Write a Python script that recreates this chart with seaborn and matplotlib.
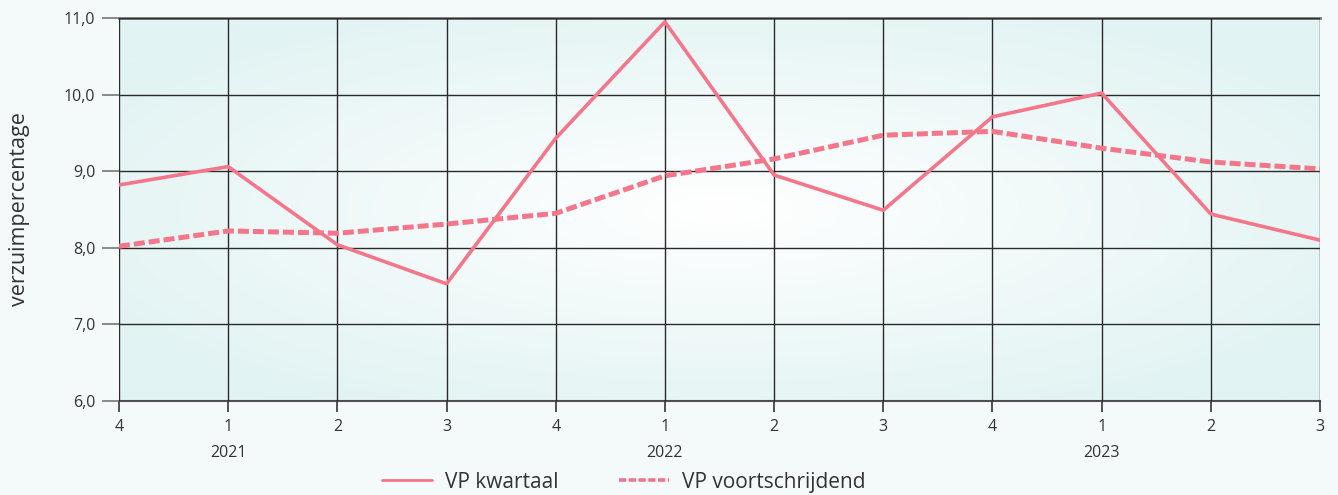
import numpy as np
import matplotlib
matplotlib.use("Agg")
import matplotlib.pyplot as plt
import seaborn as sns
import pandas as pd

quarters = ["4", "1", "2", "3", "4", "1", "2", "3", "4", "1", "2", "3"]
years = ["2021", "2022", "2023"]
year_pos = [1, 5, 9]
vp_kwartaal = [8.82, 9.06, 8.04, 7.53, 9.43, 10.95, 8.95, 8.49, 9.71, 10.02, 8.44, 8.10]
vp_voortschrijdend = [8.02, 8.22, 8.19, 8.31, 8.45, 8.94, 9.16, 9.47, 9.52, 9.30, 9.12, 9.03]
yticks = [6.0, 7.0, 8.0, 9.0, 10.0, 11.0]

sns.set_theme(style="white")
plt.rcParams['font.family'] = ['Open Sans', 'DejaVu Sans']

line_color = "#f4768a"
bg = "#f4f9fa"

fig = plt.figure(figsize=(13.38, 4.95), dpi=100, facecolor=bg)
ax = fig.add_axes([119/1338, 94/495, (1320-119)/1338, (401-18)/495])
ax.set_facecolor("#e3f3f3")

# radial gradient background
ny, nx = 200, 600
yy, xx = np.mgrid[-1:1:ny*1j, -1:1:nx*1j]
r = np.clip(np.sqrt(xx**2 + yy**2) / 1.2, 0, 1)
c_in = np.array([1.0, 1.0, 1.0])
c_out = np.array([0xe2, 0xf3, 0xf3]) / 255
img = c_in[None, None, :] * (1 - r[..., None]) + c_out[None, None, :] * r[..., None]
ax.imshow(img, extent=[0, 1, 0, 1], transform=ax.transAxes, aspect="auto", zorder=0, interpolation="bilinear")

idx = np.arange(len(quarters))
df = pd.DataFrame({"idx": idx, "k": vp_kwartaal, "v": vp_voortschrijdend})
sns.lineplot(data=df, x="idx", y="k", ax=ax, color=line_color, lw=2.6, label="VP kwartaal", zorder=4)
sns.lineplot(data=df, x="idx", y="v", ax=ax, color=line_color, lw=3.6, linestyle=(0, (2.2, 0.8)), label="VP voortschrijdend", zorder=4)

ax.set_xlim(0, len(quarters) - 1)
ax.set_ylim(6, 11)
ax.set_xticks(idx)
ax.set_xticklabels(quarters)
ax.set_yticks(yticks)
ax.set_yticklabels([f"{t:.1f}".replace(".", ",") for t in yticks])
ax.grid(True, color="#2a2a2a", lw=1.0, zorder=1)
ax.set_axisbelow(False)
for ln in ax.get_xgridlines() + ax.get_ygridlines():
    ln.set_zorder(2)
ax.tick_params(axis="both", which="both", length=12, width=1.2, color="#777777",
               labelsize=11.5, labelcolor="#333333", pad=5, left=True, bottom=True)
ax.tick_params(axis="x", length=8, color="#333333", pad=5)
for s in ["left", "right", "bottom"]:
    ax.spines[s].set_visible(False)
ax.spines["top"].set_color("#7a7a7a")
ax.spines["top"].set_linewidth(2)
ax.spines["bottom"].set_visible(True)
ax.spines["bottom"].set_color("#555555")
ax.spines["bottom"].set_linewidth(1.5)

ax.set_xlabel("")
ax.set_ylabel("verzuimpercentage", fontsize=15.5, color="#333333")
ax.yaxis.set_label_coords(-0.074, 0.5)

for y, p in zip(years, year_pos):
    ax.text(p, -0.135, y, transform=ax.get_xaxis_transform(), ha="center", va="center",
            fontsize=11.5, color="#333333")

leg = ax.legend(loc="center", bbox_to_anchor=(0.42, -0.212), ncol=2, frameon=False,
                fontsize=15, handlelength=2.4, columnspacing=2.9, handletextpad=0.63,
                labelcolor="#333333", borderpad=0.1)
hl = leg.get_lines()
hl[0].set_linewidth(2.0)
hl[1].set_linewidth(2.6)
hl[1].set_linestyle((0, (2.0, 0.7)))

fig.savefig("out.png", dpi=100, facecolor=bg)
